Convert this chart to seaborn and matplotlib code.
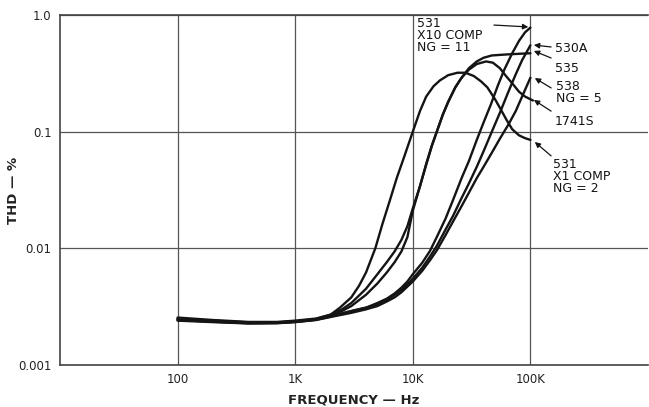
import numpy as np
import pandas as pd
import matplotlib
matplotlib.use("Agg")
import matplotlib.pyplot as plt
import seaborn as sns

# THD vs frequency for several op-amps
freq_531x1 = [100, 200, 400, 700, 1000, 1500, 2000, 2400, 3000, 3500, 4000, 4800, 5500, 6400,
              7300, 8500, 10000, 11500, 13000, 15000, 17000, 20000, 24000, 28000, 33000, 38000,
              43000, 50000, 56000, 63000, 70000, 80000, 90000, 100000]
thd_531x1 = [0.00255, 0.00243, 0.00234, 0.00234, 0.0024, 0.0025, 0.0027, 0.0031, 0.0038, 0.0048,
             0.0062, 0.010, 0.016, 0.026, 0.04, 0.062, 0.10, 0.15, 0.2, 0.245, 0.275, 0.305,
             0.32, 0.32, 0.30, 0.27, 0.24, 0.19, 0.155, 0.125, 0.105, 0.093, 0.088, 0.085]

freq_1741s = [100, 200, 400, 700, 1000, 1500, 2000, 2500, 3000, 4000, 5000, 6000, 7000, 8000,
              9000, 10000, 11500, 13000, 14500, 16000, 18000, 20000, 23000, 26000, 30000, 35000,
              42000, 48000, 55000, 62000, 70000, 80000, 90000, 105000]
thd_1741s = [0.0025, 0.0024, 0.00232, 0.00232, 0.00237, 0.00248, 0.0027, 0.003, 0.0034, 0.0045,
             0.006, 0.0076, 0.0094, 0.0118, 0.0155, 0.022, 0.034, 0.052, 0.075, 0.1, 0.14, 0.18,
             0.24, 0.29, 0.34, 0.38, 0.40, 0.39, 0.35, 0.30, 0.26, 0.22, 0.20, 0.185]

freq_535 = [100, 200, 400, 700, 1000, 1500, 2000, 2500, 3000, 4000, 5000, 6000, 7000, 8000,
            9000, 10000, 11500, 13000, 14500, 16000, 18000, 20000, 23000, 26000, 30000, 35000,
            40000, 47000, 55000, 65000, 80000, 100000]
thd_535 = [0.00248, 0.00238, 0.0023, 0.00231, 0.00236, 0.00246, 0.00265, 0.0029, 0.0032, 0.004,
           0.005, 0.0062, 0.0076, 0.0094, 0.0125, 0.021, 0.034, 0.053, 0.076, 0.1, 0.14, 0.18,
           0.24, 0.29, 0.35, 0.40, 0.43, 0.45, 0.455, 0.46, 0.465, 0.47]

freq_531x10 = [100, 200, 400, 700, 1000, 1500, 2000, 3000, 4000, 5000, 6000, 7000, 8000, 9000,
               10000, 12000, 14000, 16000, 19000, 22000, 26000, 30000, 35000, 40000, 46000,
               53000, 60000, 70000, 80000, 90000, 100000]
thd_531x10 = [0.00245, 0.00236, 0.00229, 0.0023, 0.00235, 0.00245, 0.00262, 0.0029, 0.0031,
              0.0034, 0.0037, 0.0041, 0.0046, 0.0052, 0.006, 0.0075, 0.0095, 0.0125, 0.018,
              0.026, 0.04, 0.056, 0.085, 0.12, 0.17, 0.25, 0.34, 0.47, 0.6, 0.71, 0.78]

freq_530a = [100, 200, 400, 700, 1000, 1500, 2000, 3000, 4000, 5000, 6000, 7000, 8000, 9000,
             10000, 12000, 14000, 16000, 19000, 22000, 26000, 30000, 35000, 40000, 47000,
             55000, 65000, 75000, 85000, 100000]
thd_530a = [0.00243, 0.00235, 0.00228, 0.00229, 0.00234, 0.00244, 0.0026, 0.0029, 0.0031,
            0.0033, 0.0036, 0.004, 0.0044, 0.0049, 0.0055, 0.0068, 0.0085, 0.0105, 0.0145,
            0.019, 0.027, 0.036, 0.05, 0.068, 0.1, 0.145, 0.22, 0.31, 0.41, 0.55]

freq_538 = [100, 200, 400, 700, 1000, 1500, 2000, 3000, 4000, 5000, 6000, 7000, 8000, 9000,
            10000, 12000, 14000, 16000, 19000, 22000, 26000, 30000, 35000, 40000, 47000,
            55000, 65000, 75000, 85000, 100000]
thd_538 = [0.0024, 0.00233, 0.00227, 0.00228, 0.00233, 0.00243, 0.00258, 0.0028, 0.003,
           0.0032, 0.0035, 0.0038, 0.0042, 0.0047, 0.0052, 0.0064, 0.0079, 0.0096, 0.013,
           0.017, 0.023, 0.03, 0.04, 0.05, 0.066, 0.087, 0.115, 0.15, 0.2, 0.29]

series = {
    "531 X1": (freq_531x1, thd_531x1),
    "1741S": (freq_1741s, thd_1741s),
    "535": (freq_535, thd_535),
    "531 X10": (freq_531x10, thd_531x10),
    "530A": (freq_530a, thd_530a),
    "538": (freq_538, thd_538),
}

frames = []
for name, (f, t) in series.items():
    frames.append(pd.DataFrame({"freq": f, "thd": t, "amp": name}))
df = pd.concat(frames, ignore_index=True)

x_ticks = [100, 1000, 10000, 100000]
x_tick_labels = ["100", "1K", "10K", "100K"]
y_ticks = [0.001, 0.01, 0.1, 1.0]
y_tick_labels = ["0.001", "0.01", "0.1", "1.0"]

sns.set_style("white")
plt.rcParams["font.family"] = ["DejaVu Sans"]

fig = plt.figure(figsize=(6.49, 4.07), dpi=100)
ax = fig.add_axes([60 / 649, 42 / 407, 588 / 649, 350 / 407])

sns.lineplot(data=df, x="freq", y="thd", units="amp", estimator=None,
             color="#141414", lw=1.7, ax=ax, legend=False)

ax.set_xscale("log")
ax.set_yscale("log")
ax.set_xlim(10, 1e6)
ax.set_ylim(0.001, 1.0)

ax.set_xticks(x_ticks)
ax.set_xticklabels(x_tick_labels)
ax.set_yticks(y_ticks)
ax.set_yticklabels(y_tick_labels)
ax.minorticks_off()
ax.tick_params(length=0, labelsize=8.5, colors="#222222", pad=6)
ax.grid(True, color="#555555", lw=0.9)
ax.set_axisbelow(True)

for side in ["left", "bottom", "top"]:
    ax.spines[side].set_color("#444444")
    ax.spines[side].set_linewidth(1.2)
ax.spines["right"].set_visible(False)

ax.set_xlabel("FREQUENCY \u2014 Hz", fontsize=9.5, fontweight="bold", color="#222222")
ax.set_ylabel("THD \u2014 %", fontsize=9.5, fontweight="bold", color="#222222")
ax.xaxis.set_label_coords(0.5, -0.082)
ax.yaxis.set_label_coords(-0.068, 0.5)

# curve labels with arrows
labels = [
    ("531\nX10 COMP\nNG = 11", (10900, 0.96), (49000, 0.82), (96000, 0.79)),
    ("530A", (162000, 0.587), (150000, 0.532), (107000, 0.553)),
    ("535", (162000, 0.396), (150000, 0.428), (107000, 0.492)),
    ("538\nNG = 5", (165000, 0.277), (150000, 0.237), (109000, 0.288)),
    ("1741S", (162000, 0.139), (150000, 0.150), (107000, 0.187)),
    ("531\nX1 COMP\nNG = 2", (156000, 0.0595), (150000, 0.062), (109000, 0.0816)),
]
for text, pos, tail, head in labels:
    ax.text(pos[0], pos[1], text, fontsize=9, va="top", ha="left",
            linespacing=0.92, color="#141414")
    ax.annotate("", xy=head, xytext=tail,
                arrowprops=dict(arrowstyle="-|>", color="#141414", lw=0.9,
                                mutation_scale=8, shrinkA=0, shrinkB=0))

fig.savefig("out.png", dpi=100)
